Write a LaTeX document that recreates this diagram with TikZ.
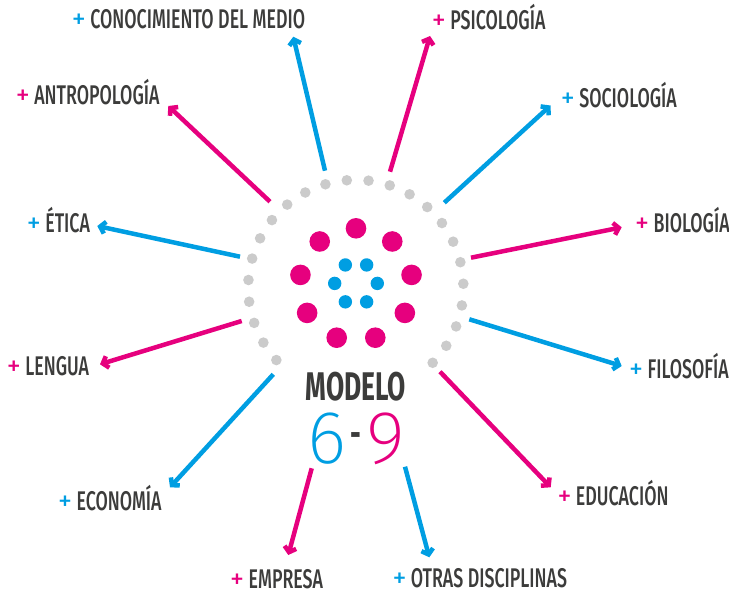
\documentclass[tikz,border=0pt]{standalone}
\usepackage{fontspec}
\usepackage{tikz}
\usetikzlibrary{arrows.meta}
\newfontfamily\labelfont{Fira Sans}[UprightFont=* Medium, BoldFont=* Bold, FakeStretch=0.66]
\newfontfamily\plusfont{Fira Sans}
\newfontfamily\numfont{Fira Sans ExtraLight}
\definecolor{pinkc}{HTML}{E6007E}
\definecolor{cyanc}{HTML}{009EE2}
\definecolor{grayc}{HTML}{CBCBCB}
\definecolor{darkc}{HTML}{3C3C3B}
\def\pl#1{{\plusfont\fontsize{28}{28}\selectfont\color{#1}+} }
\tikzset{
  lbl/.style={anchor=base west, inner sep=0pt, text=darkc, font=\labelfont\fontsize{27}{27}\selectfont},
  pinkarrow/.style={pinkc, line width=4.5pt, -{Straight Barb[length=5pt,width=12pt]}},
  cyanarrow/.style={cyanc, line width=4.5pt, -{Straight Barb[length=5pt,width=12pt]}}
}

\begin{document}
\begin{tikzpicture}[x=1pt,y=-1pt]
			%%%%% START %%%%%
			\useasboundingbox (0,0) rectangle (729,594);
			
			% gray ring, open at the bottom
			\foreach \i in {-12,...,11}
				\fill[grayc] ({355.8+107.6*cos(89+11.6*(\i+0.5))},{287.5-107.6*sin(89+11.6*(\i+0.5))}) circle (5.3pt);
			% pink dots
			\foreach \a in {90,130,...,410}
				\fill[pinkc] ({356+56.4*cos(\a)},{284.7-56.4*sin(\a)}) circle (10.3pt);
			% blue dots
			\foreach \a in {0,60,...,300}
				\fill[cyanc] ({356+21.3*cos(\a)},{283.4-21.3*sin(\a)}) circle (6.7pt);
			
			\node[anchor=base, inner sep=0pt, text=darkc, font=\labelfont\bfseries\fontsize{40}{40}\selectfont] (modelo) at (356,400) {MODELO};
			\node[anchor=base, inner sep=0pt, text=cyanc, font=\numfont\fontsize{75}{75}\selectfont] (six) at (327,463) {6};
			\node[anchor=base, inner sep=0pt, text=darkc, font=\labelfont\bfseries\fontsize{40}{40}\selectfont] (dash) at (355.7,447) {-};
			\node[anchor=base, inner sep=0pt, text=pinkc, font=\numfont\fontsize{75}{75}\selectfont] (nine) at (386,463) {9};
			
			\node[lbl] (conocimiento) at (71.7,28.3) {\pl{cyanc}CONOCIMIENTO DEL MEDIO};
			\node[lbl] (psicologia) at (431.7,30) {\pl{pinkc}PSICOLOGÍA};
			\node[lbl] (sociologia) at (560.7,107.3) {\pl{cyanc}SOCIOLOGÍA};
			\node[lbl] (biologia) at (635,232.7) {\pl{pinkc}BIOLOGÍA};
			\node[lbl] (filosofia) at (629,378) {\pl{cyanc}FILOSOFÍA};
			\node[lbl] (educacion) at (557.3,505.7) {\pl{pinkc}EDUCACIÓN};
			\node[lbl] (otras) at (392.3,587.5) {\pl{cyanc}OTRAS DISCIPLINAS};
			\node[lbl] (empresa) at (230,588) {\pl{pinkc}EMPRESA};
			\node[lbl] (economia) at (58,510.7) {\pl{cyanc}ECONOMÍA};
			\node[lbl] (lengua) at (6.7,375) {\pl{pinkc}LENGUA};
			\node[lbl] (etica) at (26.7,232.7) {\pl{cyanc}ÉTICA};
			\node[lbl] (antropologia) at (15.7,104) {\pl{pinkc}ANTROPOLOGÍA};
			
			% arrow ends
			\coordinate (s1) at (325,170.7);   \coordinate (t1) at (293.3,36.7);
			\coordinate (s2) at (390,171.7);   \coordinate (t2) at (430,36);
			\coordinate (s3) at (444.3,202.7); \coordinate (t3) at (550.5,105.5);
			\coordinate (s4) at (471,257.7);   \coordinate (t4) at (621.7,227.3);
			\coordinate (s5) at (469.3,319.3); \coordinate (t5) at (621.7,366);
			\coordinate (s6) at (440,371.7);   \coordinate (t6) at (550.7,487.3);
			\coordinate (s7) at (405,466.7);   \coordinate (t7) at (429.3,557.3);
			\coordinate (s8) at (311.7,468.3); \coordinate (t8) at (288.3,555);
			\coordinate (s9) at (273.3,374.3); \coordinate (t9) at (170,487.3);
			\coordinate (s10) at (241.7,321);  \coordinate (t10) at (100,364.3);
			\coordinate (s11) at (240,256.7);  \coordinate (t11) at (97.3,226);
			\coordinate (s12) at (270,201.7);  \coordinate (t12) at (168.3,106);
			
			\draw[cyanarrow] (s1) -- (t1);
			\draw[pinkarrow] (s2) -- (t2);
			\draw[cyanarrow] (s3) -- (t3);
			\draw[pinkarrow] (s4) -- (t4);
			\draw[cyanarrow] (s5) -- (t5);
			\draw[pinkarrow] (s6) -- (t6);
			\draw[cyanarrow] (s7) -- (t7);
			\draw[pinkarrow] (s8) -- (t8);
			\draw[cyanarrow] (s9) -- (t9);
			\draw[pinkarrow] (s10) -- (t10);
			\draw[cyanarrow] (s11) -- (t11);
			\draw[pinkarrow] (s12) -- (t12);
			%%%%% END %%%%%
		\end{tikzpicture}
\end{document}
